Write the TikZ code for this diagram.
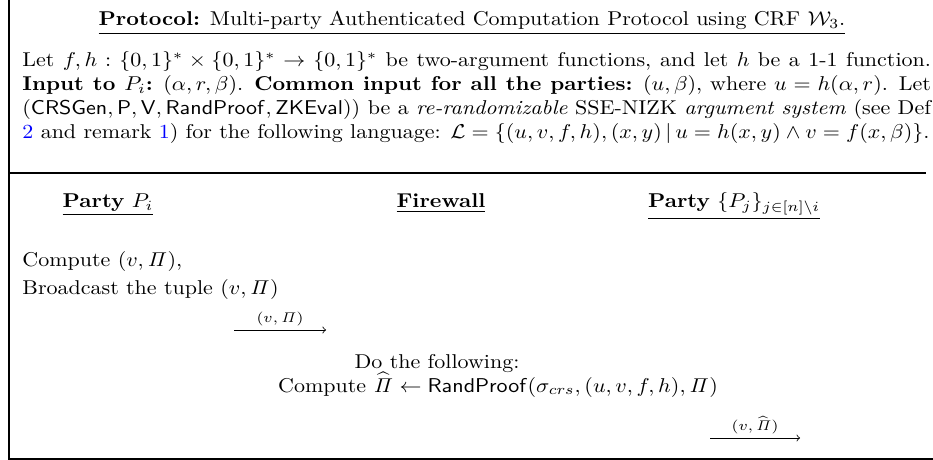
\documentclass[tikz,border=0pt]{standalone}
\usepackage{amsmath,amssymb}
\usepackage{xcolor}
\usetikzlibrary{positioning}
\tikzset{
  colhead/.style={anchor=base,inner sep=0pt},
  lefttext/.style={anchor=base west,inner sep=0pt},
  midtext/.style={anchor=base,inner sep=0pt},
  msg/.style={->,thin},
  msglabel/.style={above,inner sep=2pt,font=\scriptsize}
}
\newcommand{\ppi}{\mathit{\Pi}}
\newcommand{\linkref}[1]{\textcolor{blue}{#1}}
\begin{document}
\begin{tikzpicture}[xscale=1.1,x=0.45455pt,y=-0.5pt,every node/.append style={transform shape}]
    \useasboundingbox (0,0) rectangle (933,460);
    % frame
    \draw[semithick] (9,0) -- (9,459) -- (933,459);
    \draw[semithick] (9,173) -- (926,173);
    % heading and setup
    \node[midtext] (title) at (472,26)
      {\underline{\textbf{Protocol:} Multi-party Authenticated Computation Protocol using CRF $\mathcal{W}_3$.}};
    \node[anchor=base west,inner sep=0pt,text width=413pt,align=justify] (setup) at (22,67)
      {Let $f,h:\{0,1\}^*\times\{0,1\}^*\rightarrow\{0,1\}^*$ be two-argument functions, and let $h$ be a 1-1 function.\linebreak
       \textbf{Input to $P_i$:} $(\alpha,r,\beta)$. \textbf{Common input for all the parties:} $(u,\beta)$, where $u=h(\alpha,r)$. Let\linebreak
       $(\mathsf{CRSGen},\mathsf{P},\mathsf{V},\mathsf{RandProof},\mathsf{ZKEval}))$ be a \textit{re-randomizable} SSE-NIZK \textit{argument system} (see Def\linebreak
       \linkref{2} and remark \linkref{1}) for the following language: $\mathcal{L}=\{(u,v,f,h),(x,y)\,|\,u=h(x,y)\wedge v=f(x,\beta)\}$.};
    % columns
    \node[colhead] (pi) at (108,208) {\underline{\textbf{Party} $P_i$}};
    \node[colhead] (fw) at (441,208) {\underline{\textbf{Firewall}}};
    \node[colhead] (pj) at (734,208) {\underline{\textbf{Party} $\{P_j\}_{j\in[n]\setminus i}$}};
    % party P_i
    \node[lefttext] (comp) at (22,267) {Compute $(v,\ppi)$,};
    \node[lefttext] (bcast) at (22,294) {Broadcast the tuple $(v,\ppi)$};
    \coordinate (m1s) at (234,330);
    \coordinate (m1e) at (326,330);
    \draw[msg] (m1s) -- node[msglabel] {$(v,\ppi)$} (m1e);
    % firewall
    \node[midtext] (dofw) at (437,368) {Do the following:};
    \node[midtext] (rand) at (498,392)
      {Compute $\widehat{\ppi}\leftarrow\mathsf{RandProof}(\sigma_{crs},(u,v,f,h),\ppi)$};
    \coordinate (m2s) at (710,438);
    \coordinate (m2e) at (800,438);
    \draw[msg] (m2s) -- node[msglabel] {$(v,\widehat{\ppi})$} (m2e);
\end{tikzpicture}
\end{document}
